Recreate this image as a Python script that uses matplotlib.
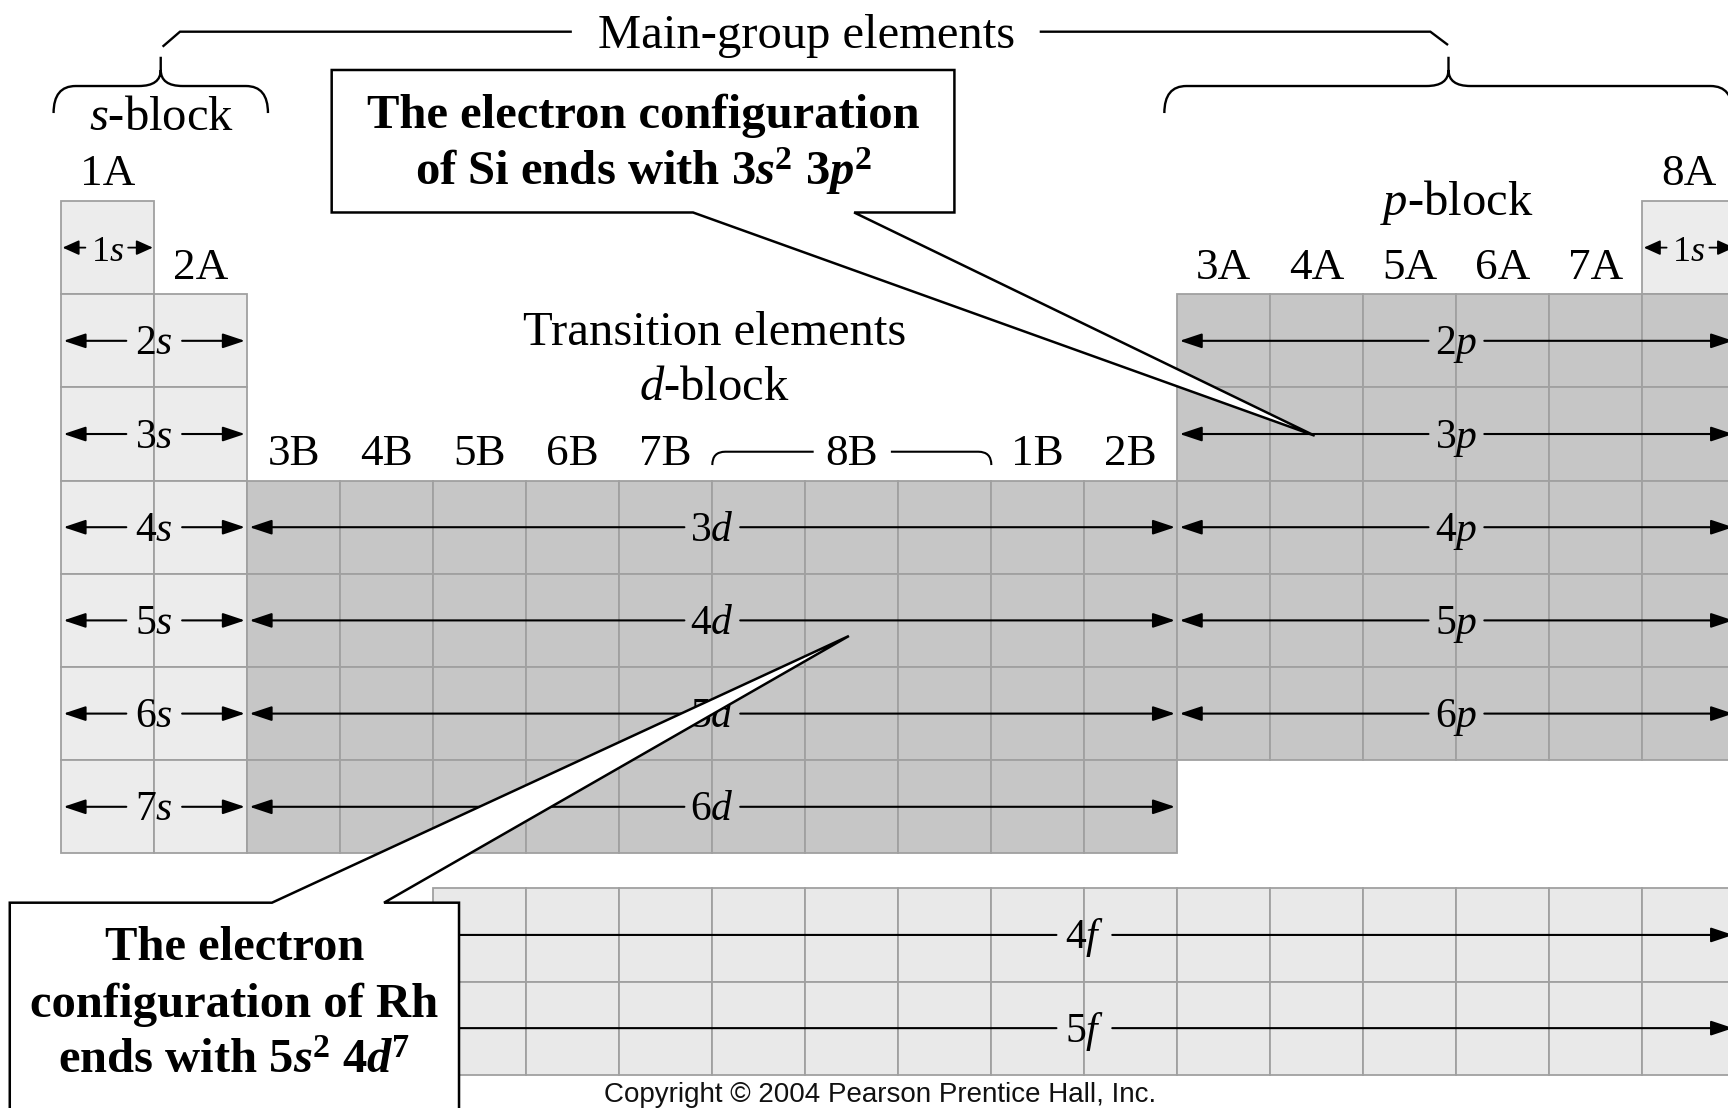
import matplotlib
matplotlib.use('Agg')
import matplotlib.pyplot as plt
from matplotlib.patches import Rectangle, Polygon, PathPatch
from matplotlib.path import Path

plt.rcParams['font.family'] = ['Liberation Serif', 'DejaVu Serif']
plt.rcParams['mathtext.fontset'] = 'custom'
plt.rcParams['mathtext.rm'] = 'Liberation Serif'
plt.rcParams['mathtext.it'] = 'Liberation Serif:italic'
plt.rcParams['mathtext.bf'] = 'Liberation Serif:bold'
plt.rcParams['mathtext.bfit'] = 'Liberation Serif:bold:italic'

# ---------------- data ----------------
group_labels = ['1A', '2A', '3B', '4B', '5B', '6B', '7B', '8B', '8B', '8B',
                '1B', '2B', '3A', '4A', '5A', '6A', '7A', '8A']
# first period present in each column
column_first_row = [1, 2, 4, 4, 4, 4, 4, 4, 4, 4, 4, 4, 2, 2, 2, 2, 2, 1]

s_cols = (0, 2)
s_rows = [2, 3, 4, 5, 6, 7]
s_labels = ['2', '3', '4', '5', '6', '7']
d_cols = (2, 12)
d_rows = [4, 5, 6, 7]
d_labels = ['3', '4', '5', '6']
p_cols = (12, 18)
p_rows = [2, 3, 4, 5, 6]
p_labels = ['2', '3', '4', '5', '6']
f_cols = (4, 18)
f_rows = [7.375, 8.375]       # top offsets of the separated f rows
f_labels = ['4', '5']
first_row_cols = [0, 17]      # 1s cells (H, He)

callout_si = ["The electron configuration",
              r"of Si ends with 3$\mathbfit{s}^{\mathbf{2}}$ 3$\mathbfit{p}^{\mathbf{2}}$"]
callout_rh = ["The electron",
              "configuration of Rh",
              r"ends with 5$\mathbfit{s}^{\mathbf{2}}$ 4$\mathbfit{d}^{\mathbf{7}}$"]
copyright_text = "Copyright \u00a9 2004 Pearson Prentice Hall, Inc."

# ---------------- style ----------------
C_LIGHT = '#ececec'
C_DARK = '#c6c6c6'
C_F = '#e9e9e9'
C_GRID = '#a0a0a0'

fig = plt.figure(figsize=(17.28, 11.08), dpi=100)
ax = fig.add_axes([0, 0, 1, 1])
ax.set_xlim(-0.658, 17.92)
ax.set_ylim(9.732, -2.157)
ax.axis('off')


def cell(c, top, color):
    ax.add_patch(Rectangle((c, top), 1, 1, facecolor=color, edgecolor=C_GRID,
                           lw=1.3, zorder=1))


def arrow(x_from, x_to, y, hl=1.35, hw=0.45, lw=1.5):
    ax.annotate('', xy=(x_to, y), xytext=(x_from, y), annotation_clip=False,
                arrowprops=dict(arrowstyle=f'-|>,head_length={hl},head_width={hw}',
                                lw=lw, color='black', shrinkA=0, shrinkB=0,
                                mutation_scale=10), zorder=3)


def orbital_row(c0, c1, top, label, gap=0.3, inset=0.025):
    y = top + 0.5
    xc = (c0 + c1) / 2
    arrow(xc - gap, c0 + inset, y)
    arrow(xc + gap, c1 - inset, y)
    ax.text(xc, y + 0.145, label, fontsize=30, ha='center', va='baseline',
            zorder=4)


# cells
for c in first_row_cols:
    cell(c, 0, C_LIGHT)
for r in s_rows:
    for c in range(*s_cols):
        cell(c, r - 1, C_LIGHT)
for r in d_rows:
    for c in range(*d_cols):
        cell(c, r - 1, C_DARK)
for r in p_rows:
    for c in range(*p_cols):
        cell(c, r - 1, C_DARK)
for top in f_rows:
    for c in range(*f_cols):
        cell(c, top, C_F)

# orbital arrows
for r, lab in zip(s_rows, s_labels):
    orbital_row(*s_cols, r - 1, lab + '$s$')
for r, lab in zip(d_rows, d_labels):
    orbital_row(*d_cols, r - 1, lab + '$d$')
for r, lab in zip(p_rows, p_labels):
    orbital_row(*p_cols, r - 1, lab + '$p$')
for top, lab in zip(f_rows, f_labels):
    orbital_row(*f_cols, top, lab + '$f$')

# 1s cells
for c in first_row_cols:
    xc = c + 0.5
    arrow(xc - 0.24, c + 0.015, 0.5, hl=1.0, hw=0.45, lw=1.3)
    arrow(xc + 0.22, c + 0.985, 0.5, hl=1.0, hw=0.45, lw=1.3)
    ax.text(xc, 0.5 + 0.14, '1$s$', fontsize=26, ha='center', va='baseline',
            zorder=4)

# group labels
for c, (lab, fr) in enumerate(zip(group_labels, column_first_row)):
    if lab == '8B':
        continue
    ax.text(c + 0.5, fr - 1 - 0.167, lab, fontsize=32.5, ha='center',
            va='baseline')

# 8B bracket
ax.text(8.5, 2.833, '8B', fontsize=32.5, ha='center', va='baseline')
r8 = 0.14
p8 = Path([(7.0, 2.833), (7.0, 2.69), (7.0 + r8, 2.69), (8.09, 2.69),
           (8.92, 2.69), (10.0 - r8, 2.69), (10.0, 2.69), (10.0, 2.833)],
          [Path.MOVETO, Path.CURVE3, Path.CURVE3, Path.LINETO,
           Path.MOVETO, Path.LINETO, Path.CURVE3, Path.CURVE3])
ax.add_patch(PathPatch(p8, fill=False, lw=1.5, edgecolor='black'))


def brace(x0, x1, xm, y_end=-0.944, y_arm=-1.234, y_cusp=-1.406,
          y_tip=-1.548, rx=0.237):
    verts = [(x0, y_end), (x0, y_arm), (x0 + rx, y_arm),
             (xm - rx, y_arm), (xm, y_arm), (xm, y_cusp), (xm, y_tip),
             (xm, y_cusp), (xm, y_arm), (xm + rx, y_arm),
             (x1 - rx, y_arm), (x1, y_arm), (x1, y_end)]
    codes = [Path.MOVETO, Path.CURVE3, Path.CURVE3,
             Path.LINETO, Path.CURVE3, Path.CURVE3, Path.LINETO,
             Path.MOVETO, Path.CURVE3, Path.CURVE3,
             Path.LINETO, Path.CURVE3, Path.CURVE3]
    ax.add_patch(PathPatch(Path(verts, codes), fill=False, lw=1.7,
                           edgecolor='black'))


brace(-0.082, 2.223, 1.07)
brace(11.86, 17.97, 14.915)

# main-group line
ymg = -1.817
pm = Path([(1.090, -1.656), (1.277, ymg), (5.49, ymg),
           (10.52, ymg), (14.72, ymg), (14.91, -1.674)],
          [Path.MOVETO, Path.LINETO, Path.LINETO,
           Path.MOVETO, Path.LINETO, Path.LINETO])
ax.add_patch(PathPatch(pm, fill=False, lw=1.7, edgecolor='black'))
ax.text(8.01, -1.645, 'Main-group elements', fontsize=35, ha='center',
        va='baseline')

# block titles
ax.text(1.08, -0.762, '$s$-block', fontsize=35, ha='center', va='baseline')
ax.text(15.0, 0.15, '$p$-block', fontsize=35, ha='center', va='baseline')
ax.text(7.02, 1.545, 'Transition elements', fontsize=35, ha='center',
        va='baseline')
ax.text(7.02, 2.135, '$d$-block', fontsize=35, ha='center', va='baseline')

# callouts
si_poly = [(2.908, -1.406), (9.603, -1.406), (9.603, 0.123), (8.525, 0.123),
           (13.476, 2.518), (6.793, 0.123), (2.908, 0.123)]
ax.add_patch(Polygon(si_poly, closed=True, facecolor='white',
                     edgecolor='black', lw=1.8, zorder=10))
for txt, yb in zip(callout_si, [-0.780, -0.172]):
    ax.text(6.256, yb, txt, fontsize=35, fontweight='bold', ha='center',
            va='baseline', zorder=11)

rh_poly = [(-0.553, 10.5), (-0.553, 7.529), (2.266, 7.529), (8.469, 4.667),
           (3.471, 7.529), (4.277, 7.529), (4.277, 10.5)]
ax.add_patch(Polygon(rh_poly, closed=True, facecolor='white',
                     edgecolor='black', lw=1.8, zorder=10))
for txt, yb in zip(callout_rh, [8.14, 8.755, 9.356]):
    ax.text(1.86, yb, txt, fontsize=35, fontweight='bold', ha='center',
            va='baseline', zorder=11)

ax.text(8.80, 9.665, copyright_text, fontsize=20, family='Liberation Sans',
        ha='center', va='baseline', color='#111111')

fig.savefig('out.png', dpi=100)
